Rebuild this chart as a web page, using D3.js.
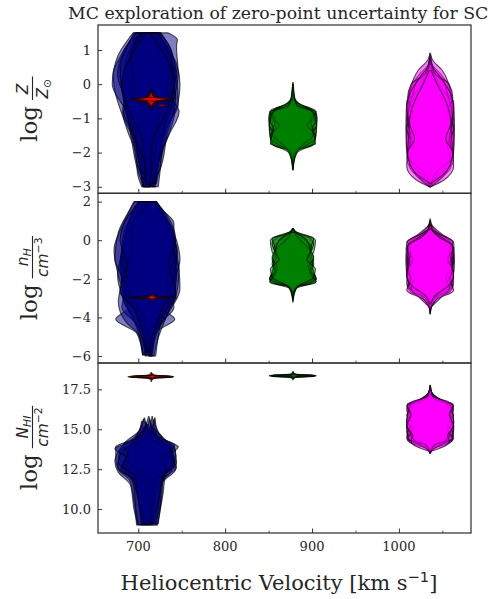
<!DOCTYPE html>
<html><head><meta charset="utf-8">
<script src="https://cdn.jsdelivr.net/npm/d3@7"></script>
<style>body{margin:0;background:#fff}svg{display:block}</style>
</head><body>
<svg id="chart" width="490" height="599"></svg>
<script>
// Monte-Carlo realisations of each absorption component.
// Every violin: [velocity (km/s), [[value, half-width (km/s)], ...]]

// ---- log Z/Zsun ----
const metalBlue = [
  [712, [[-3,5],[-2.5,10],[-2,12],[-1,22],[-0.3,30],[0.5,28],[1.2,18],[1.5,10]]],
  [716, [[-3,4],[-2.2,8],[-1.5,14],[-0.5,30],[0,32],[0.6,28],[1.2,14],[1.5,8]]],
  [707, [[-3,3],[-2.6,8],[-1.8,10],[-1.0,24],[-0.2,34],[0.3,36],[0.8,28],[1.3,16],[1.5,10]]],
  [718, [[-2.9,3],[-2,10],[-1.2,16],[-0.6,28],[0.2,26],[1,20],[1.5,8]]],
  [712, [[-3,7],[-2,14],[-1.4,24],[-0.8,30],[0,22],[0.8,12],[1.5,6]]],
  [710, [[-3,4],[-2.4,12],[-1.6,18],[-0.4,26],[0.3,34],[1.0,26],[1.5,12]]],
  [713, [[-2.95,2],[-2.5,12],[-1.5,20],[-0.4,30],[0.6,22],[1.5,4]]],
  [706, [[-2.6,3],[-1.8,8],[-0.8,20],[0,36],[0.8,30],[1.3,18],[1.5,12]]],
  [720, [[-3,3],[-2.3,6],[-1.4,8],[-0.5,20],[0.3,26],[1.1,24],[1.3,25],[1.5,14]]],
  [709, [[-3,3],[-2.7,5],[-2,10],[-1,14],[-0.2,28],[0.5,30],[1.2,20],[1.5,14]]],
  [715, [[-2.9,4],[-2.3,8],[-1.5,20],[-0.8,32],[-0.2,18],[0.8,24],[1.5,10]]],
  [711, [[-3,2],[-2.8,3],[-2.2,4],[-1.6,6],[-1.0,18],[0,30],[1.5,2]]]
];
const metalRed = [
  [715, [[-0.76,0.3],[-0.6,2],[-0.5,8],[-0.45,24],[-0.4,8],[-0.3,2],[-0.12,0.3]]],
  [715, [[-0.7,0.3],[-0.56,4],[-0.48,14],[-0.45,22],[-0.42,14],[-0.34,4],[-0.18,0.3]]],
  [714, [[-0.64,0.5],[-0.52,6],[-0.46,20],[-0.4,6],[-0.26,0.5]]],
  [715, [[-0.66,0.3],[-0.54,3],[-0.47,10],[-0.44,18],[-0.41,10],[-0.36,3],[-0.22,0.3]]],
  [717, [[-0.5,0.3],[-0.42,20],[-0.38,0.3]]],
  [727, [[-0.66,0.3],[-0.62,6],[-0.58,0.3]]]
];
const metalGreen = [
  [878, [[-2.5,0.5],[-2.2,1.5],[-1.9,6],[-1.7,20],[-1.3,24],[-0.9,22],[-0.75,10],[-0.5,2],[-0.1,0.5]]],
  [878, [[-2.3,0.5],[-2.0,3],[-1.75,16],[-1.5,26],[-1.2,18],[-1.0,26],[-0.8,24],[-0.6,6],[-0.3,1],[0.05,0.3]]],
  [878, [[-2.4,0.5],[-1.95,2],[-1.8,22],[-1.4,27],[-0.9,27],[-0.7,20],[-0.55,3],[-0.2,0.5]]],
  [878, [[-2.2,0.5],[-1.9,4],[-1.6,12],[-1.3,26],[-1.1,14],[-0.8,20],[-0.6,2],[-0.3,0.5]]],
  [878, [[-2.45,0.3],[-2.0,2],[-1.7,24],[-1.0,28],[-0.75,25],[-0.62,8],[-0.4,1],[0,0.3]]],
  [878, [[-2.3,0.4],[-1.85,6],[-1.5,20],[-1.25,10],[-1.0,24],[-0.7,12],[-0.4,1]]],
  [878, [[-2.35,0.3],[-1.9,3],[-1.75,26],[-1.55,20],[-1.2,27],[-0.85,26],[-0.7,18],[-0.5,1],[-0.2,0.3]]],
  [878, [[-2.5,0.3],[-2.05,1],[-1.8,14],[-1.6,26],[-1.0,20],[-0.8,27],[-0.68,6],[-0.3,0.5]]],
  [878, [[-2.2,0.3],[-1.85,8],[-1.45,24],[-1.2,16],[-0.9,25],[-0.66,14],[-0.45,1],[-0.1,0.3]]],
  [878, [[-2.4,0.3],[-2.0,5],[-1.7,26],[-1.3,22],[-1.1,26],[-0.8,22],[-0.6,4],[0.0,0.3]]]
];
const metalMagenta = [
  [1036, [[-3,0.5],[-2.7,8],[-2.3,22],[-1.5,27],[-0.7,26],[-0.2,24],[0.3,12],[0.6,2],[0.9,0.5]]],
  [1036, [[-2.95,0.5],[-2.5,14],[-2.0,24],[-1.2,25],[-0.5,20],[0,10],[0.5,3],[0.75,0.5]]],
  [1036, [[-3,1],[-2.6,18],[-1.8,27],[-1.0,27],[-0.4,24],[-0.1,12],[0.4,4],[0.7,0.5]]],
  [1036, [[-2.9,0.5],[-2.4,10],[-1.9,20],[-1.4,26],[-0.6,25],[0.1,20],[0.4,14],[0.7,3],[0.85,0.5]]],
  [1036, [[-3,0.5],[-2.8,4],[-2.2,16],[-1.6,24],[-0.9,22],[-0.3,14],[0.2,5],[0.6,0.5]]],
  [1036, [[-2.95,0.3],[-2.65,10],[-2.3,26],[-1.3,28],[-0.5,27],[-0.3,18],[0.2,6],[0.5,0.5]]],
  [1036, [[-3,0.3],[-2.75,12],[-2.4,24],[-1.8,20],[-1.3,27],[-0.8,20],[-0.4,26],[0,22],[0.3,6],[0.7,0.3]]],
  [1036, [[-2.98,0.5],[-2.6,6],[-2.1,26],[-1.6,22],[-1.0,26],[-0.3,20],[0.05,16],[0.35,4],[0.6,0.3]]],
  [1036, [[-3,0.3],[-2.8,16],[-2.4,27],[-1.2,24],[-0.7,27],[-0.2,22],[0.2,12],[0.55,2],[0.8,0.3]]],
  [1036, [[-2.9,0.5],[-2.5,20],[-2.0,26],[-1.6,18],[-1.1,24],[-0.5,18],[0,8],[0.4,1]]]
];

// ---- log nH ----
const densBlue = [
  [712, [[-6,4],[-5,8],[-4,18],[-3,30],[-1,32],[0.5,28],[1.5,14],[2,6]]],
  [708, [[-5.9,3],[-4.8,10],[-4.1,34],[-3.5,20],[-2,30],[-0.5,36],[0.8,26],[2,12]]],
  [716, [[-6,2],[-5.2,6],[-4,16],[-2.5,32],[-1.2,30],[0,26],[1.4,14],[2,5]]],
  [710, [[-5.95,5],[-4.5,12],[-3.2,26],[-1.8,34],[-0.8,30],[0.6,22],[1.6,16],[2,10]]],
  [714, [[-6,1],[-5,4],[-3.5,14],[-2.2,26],[-1,34],[0,30],[1,20],[2,4]]],
  [711, [[-5.8,3],[-4.3,14],[-3.5,30],[-2.5,26],[-1.5,32],[-0.2,28],[1.2,20],[2,8]]],
  [713, [[-6,1],[-5.5,3],[-4.6,8],[-3.6,16],[-2.9,30],[-1.8,28],[-0.6,32],[0.8,20],[2,6]]],
  [707, [[-5.9,2],[-5,5],[-4.2,22],[-3.2,30],[-2.0,26],[-1.0,34],[0.4,30],[1.5,18],[2,12]]],
  [717, [[-6,3],[-5,6],[-3.8,12],[-3.0,26],[-1.5,30],[-0.5,24],[0.9,24],[1.6,10],[2,4]]],
  [711, [[-5.7,2],[-4.5,8],[-3.3,20],[-2.7,32],[-1.2,24],[0,32],[1.3,22],[2,9]]]
];
const densRed = [
  [715, [[-3.08,0.3],[-3.0,3],[-2.96,28],[-2.92,3],[-2.82,0.3]]],
  [715, [[-3.02,0.3],[-2.97,30],[-2.93,0.3]]],
  [715, [[-3.05,0.3],[-2.98,5],[-2.95,26],[-2.91,5],[-2.86,0.3]]],
  [716, [[-3.15,0.3],[-3.05,2],[-2.97,6],[-2.88,2],[-2.78,0.3]]]
];
const densGreen = [
  [878, [[-3.2,0.3],[-2.6,1],[-2.3,6],[-2.1,26],[-1.7,22],[-1.0,18],[-0.3,14],[0.2,6],[0.6,0.5]]],
  [878, [[-3.0,0.3],[-2.4,2],[-2.15,24],[-1.9,26],[-1.3,16],[-0.6,24],[0,26],[0.25,16],[0.45,1]]],
  [878, [[-2.9,0.3],[-2.3,3],[-2.05,27],[-1.5,23],[-0.9,22],[-0.4,16],[0.1,8],[0.55,0.5]]],
  [878, [[-3.1,0.3],[-2.5,4],[-2.2,22],[-1.95,18],[-1.2,24],[-0.7,20],[-0.2,24],[0.15,18],[0.35,2]]],
  [878, [[-2.8,0.3],[-2.3,8],[-2.0,25],[-1.6,14],[-1.0,20],[-0.4,12],[0.3,3],[0.6,0.3]]],
  [878, [[-3.0,0.3],[-2.45,1.5],[-2.2,26],[-1.8,24],[-1.1,21],[-0.5,18],[0.0,10],[0.5,1]]],
  [878, [[-3.1,0.3],[-2.5,2],[-2.2,16],[-2.0,27],[-1.6,20],[-1.3,23],[-0.8,18],[-0.4,22],[0.1,12],[0.55,0.5]]],
  [878, [[-2.9,0.3],[-2.35,6],[-2.1,24],[-1.5,20],[-1.0,24],[-0.5,20],[0.1,24],[0.3,10],[0.5,0.5]]],
  [878, [[-3.0,0.3],[-2.4,4],[-2.15,27],[-1.9,22],[-1.4,18],[-0.9,24],[-0.4,18],[0.2,4],[0.6,0.3]]],
  [878, [[-2.7,0.3],[-2.25,10],[-2.0,22],[-1.5,26],[-1.0,16],[-0.6,20],[0,16],[0.4,2]]]
];
const densMagenta = [
  [1036, [[-3.8,0.3],[-3.2,2],[-2.8,12],[-2.5,24],[-1.5,27],[-0.4,26],[0,20],[0.4,8],[0.9,1],[1.1,0.3]]],
  [1036, [[-3.6,0.3],[-3.0,6],[-2.7,22],[-2.2,27],[-1.2,22],[-0.9,26],[-0.2,24],[0.3,6],[0.7,0.5]]],
  [1036, [[-3.5,0.3],[-2.9,10],[-2.5,18],[-1.8,27],[-1.3,24],[-1.0,27],[-0.3,22],[0.2,10],[0.6,1]]],
  [1036, [[-3.7,0.3],[-3.1,3],[-2.6,16],[-2.0,26],[-1.1,28],[-0.1,27],[0.3,14],[0.8,0.5]]],
  [1036, [[-3.4,0.3],[-2.8,8],[-2.4,26],[-1.6,20],[-1.2,27],[-0.5,24],[0.1,14],[0.5,2]]],
  [1036, [[-3.6,0.3],[-3.0,4],[-2.5,14],[-1.7,25],[-0.7,26],[-0.2,22],[0.4,4],[0.9,0.3]]],
  [1036, [[-3.8,0.3],[-3.0,2],[-2.7,20],[-2.3,24],[-1.6,27],[-1.2,20],[-0.8,27],[-0.2,25],[0.2,16],[0.5,3],[1.0,0.3]]],
  [1036, [[-3.5,0.3],[-2.9,14],[-2.5,22],[-1.9,18],[-1.4,26],[-0.6,22],[-0.1,26],[0.3,12],[0.6,0.5]]],
  [1036, [[-3.6,0.3],[-3.05,8],[-2.6,27],[-2.0,22],[-1.5,26],[-1.0,20],[-0.4,27],[0,18],[0.45,4],[0.8,0.3]]],
  [1036, [[-3.3,0.3],[-2.85,6],[-2.4,20],[-1.9,27],[-1.1,24],[-0.3,26],[0.15,10],[0.6,0.3]]]
];

// ---- log N(HI) ----
const columnBlue = [
  [704, [[9.0,6],[10.5,9],[11.8,14],[12.4,26],[13.2,30],[13.9,30],[14.3,14],[14.8,4],[15.5,0.3]]],
  [707, [[9.05,8],[10,12],[11.5,16],[12.3,30],[13,34],[13.6,30],[14.2,22],[14.9,6],[15.7,0.3]]],
  [710, [[9.1,6],[11,12],[12.0,20],[12.6,34],[13.5,30],[14.1,18],[14.6,10],[15.3,1]]],
  [718, [[9.0,4],[10.8,10],[12.2,14],[12.8,24],[13.4,20],[13.9,28],[14.4,10],[15.0,3],[15.6,0.3]]],
  [713, [[9.2,7],[10.2,12],[11.6,14],[12.5,30],[13.3,26],[14.0,22],[14.7,12],[15.2,2],[15.6,0.3]]],
  [716, [[9.0,5],[10.5,8],[12,10],[12.9,28],[13.8,26],[14.4,8],[15.0,3],[15.8,0.3]]],
  [709, [[9.0,5],[10.2,8],[11.4,12],[12.2,18],[12.9,32],[13.7,30],[14.1,12],[14.5,6],[15.4,0.3]]],
  [719, [[9.1,4],[10.8,8],[12.0,10],[12.6,18],[13.3,24],[13.9,22],[14.5,8],[15.1,2],[15.7,0.3]]],
  [706, [[9.0,6],[10,9],[11.8,12],[12.5,26],[13.2,20],[13.8,33],[14.2,14],[14.9,5],[15.6,0.3]]],
  [712, [[9.05,5],[11,13],[12.1,16],[12.7,30],[13.5,24],[14.0,30],[14.6,8],[15.3,3],[15.8,0.3]]]
];
const columnRed = [
  [715, [[18.0,0.3],[18.2,1],[18.24,20],[18.29,26],[18.34,20],[18.38,1],[18.55,0.3]]],
  [715, [[18.1,0.3],[18.22,6],[18.3,25],[18.38,6],[18.5,0.3]]],
  [715, [[18.2,0.5],[18.26,22],[18.32,22],[18.37,0.5]]],
  [714, [[18.22,0.5],[18.27,24],[18.31,26],[18.35,0.5]]],
  [716, [[18.15,0.3],[18.24,3],[18.28,24],[18.33,3],[18.45,0.3]]]
];
const columnGreen = [
  [878, [[18.1,0.3],[18.25,1],[18.29,20],[18.35,27],[18.41,20],[18.45,1],[18.62,0.3]]],
  [878, [[18.15,0.3],[18.27,5],[18.35,26],[18.43,5],[18.55,0.3]]],
  [878, [[18.26,0.5],[18.32,24],[18.38,24],[18.43,0.5]]],
  [877, [[18.28,0.5],[18.33,26],[18.37,26],[18.41,0.5]]],
  [879, [[18.2,0.3],[18.3,3],[18.34,25],[18.39,3],[18.5,0.3]]]
];
const columnMagenta = [
  [1036, [[13.5,0.3],[13.9,4],[14.2,20],[14.6,26],[15.4,22],[16.0,26],[16.5,24],[16.9,8],[17.4,1],[17.75,0.3]]],
  [1036, [[13.6,0.3],[14.0,10],[14.3,26],[14.8,18],[15.2,26],[15.8,20],[16.3,26],[16.7,12],[17.2,1],[17.5,0.3]]],
  [1036, [[13.7,0.3],[14.1,16],[14.4,27],[15.0,26],[15.6,22],[16.2,27],[16.6,26],[16.85,4],[17.3,0.3]]],
  [1036, [[13.6,0.3],[14.0,6],[14.5,22],[15.1,27],[15.7,24],[16.4,20],[16.8,14],[17.2,3],[17.6,0.3]]],
  [1036, [[13.8,0.3],[14.2,24],[14.7,26],[15.5,20],[16.1,24],[16.55,22],[16.9,10],[17.35,0.5]]],
  [1036, [[13.5,0.3],[14.15,8],[14.4,20],[14.9,27],[15.6,27],[16.3,22],[16.7,18],[17.1,2],[17.7,0.3]]],
  [1036, [[13.6,0.3],[14.05,12],[14.35,24],[14.8,26],[15.3,20],[15.9,27],[16.4,20],[16.75,16],[17.1,2],[17.6,0.3]]],
  [1036, [[13.7,0.3],[14.1,8],[14.4,26],[15.0,20],[15.5,27],[16.0,22],[16.5,27],[16.8,8],[17.2,0.5]]],
  [1036, [[13.5,0.3],[14.0,4],[14.3,18],[14.9,24],[15.4,27],[16.2,25],[16.6,22],[17.0,6],[17.5,0.3]]],
  [1036, [[13.6,0.3],[14.2,22],[14.6,20],[15.2,27],[15.9,22],[16.4,26],[16.75,20],[17.05,3],[17.7,0.3]]]
];

// axis ranges and ticks
const velocityRange = [653.6, 1083];
const velocityTicks = [700, 800, 900, 1000];
const velocityMinorTicks = [750, 850, 950, 1050];
const metalRange = [-3.19, 1.73];
const metalTicks = [-3, -2, -1, 0, 1];
const densRange = [-6.36, 2.43];
const densTicks = [-6, -4, -2, 0, 2];
const columnRange = [8.5, 19.15];
const columnTicks = [10, 12.5, 15, 17.5];

const componentColors = ["navy", "red", "green", "magenta"];

const svg = d3.select("#chart");
const left = 98, right = 471;
const ink = "#262626", spine = "#333";

const x = d3.scaleLinear().domain(velocityRange).range([left, right]);

const panels = [
  {top: 25, bottom: 193.3, range: metalRange, ticks: metalTicks, fmt: d3.format("d"),
   groups: [metalBlue, metalRed, metalGreen, metalMagenta]},
  {top: 193.3, bottom: 363, range: densRange, ticks: densTicks, fmt: d3.format("d"),
   groups: [densBlue, densRed, densGreen, densMagenta]},
  {top: 363, bottom: 533, range: columnRange, ticks: columnTicks, fmt: d3.format(".1f"),
   groups: [columnBlue, columnRed, columnGreen, columnMagenta]}
];

svg.append("text")
  .attr("x", 68).attr("y", 18.5)
  .attr("font-family", "DejaVu Serif").attr("font-size", 17.3).attr("fill", ink)
  .text("MC exploration of zero-point uncertainty for SC");

panels.forEach((p, i) => {
  const y = d3.scaleLinear().domain(p.range).range([p.bottom, p.top]);
  const clipId = "clip" + i;
  svg.append("clipPath").attr("id", clipId).append("rect")
    .attr("x", left).attr("y", p.top).attr("width", right - left).attr("height", p.bottom - p.top);
  const g = svg.append("g").attr("clip-path", `url(#${clipId})`);

  p.groups.forEach((violins, ci) => {
    violins.forEach(([pos, prof]) => {
      const pts = prof.slice().sort((a, b) => b[0] - a[0]);
      const area = d3.area()
        .curve(d3.curveMonotoneY)
        .y(d => y(d[0]))
        .x0(d => x(pos - d[1]))
        .x1(d => x(pos + d[1]));
      g.append("path").attr("d", area(pts))
        .attr("fill", componentColors[ci]).attr("fill-opacity", 0.5)
        .attr("stroke", "#000").attr("stroke-opacity", 0.65).attr("stroke-width", 1.1);
    });
  });

  // frame
  svg.append("rect").attr("x", left).attr("y", p.top)
    .attr("width", right - left).attr("height", p.bottom - p.top)
    .attr("fill", "none").attr("stroke", spine).attr("stroke-width", 1.25);

  // inward y ticks
  const ya = d3.axisRight(y).tickValues(p.ticks).tickSize(4).tickFormat("");
  const yg = svg.append("g").attr("transform", `translate(${left},0)`).call(ya);
  yg.select(".domain").remove();
  yg.selectAll("line").attr("stroke", spine).attr("stroke-width", 1);
  p.ticks.forEach(t => {
    svg.append("text").attr("x", left - 7).attr("y", y(t)).attr("dy", "0.36em")
      .attr("text-anchor", "end").attr("font-family", "DejaVu Serif").attr("font-size", 13)
      .attr("fill", ink).text(p.fmt(t));
  });

  // inward x ticks
  const xa = d3.axisTop(x).tickValues(velocityTicks).tickSize(4.5).tickFormat("");
  const xg = svg.append("g").attr("transform", `translate(0,${p.bottom})`).call(xa);
  xg.select(".domain").remove();
  xg.selectAll("line").attr("stroke", spine).attr("stroke-width", 1);
  const xm = d3.axisTop(x).tickValues(velocityMinorTicks).tickSize(2.5).tickFormat("");
  const xmg = svg.append("g").attr("transform", `translate(0,${p.bottom})`).call(xm);
  xmg.select(".domain").remove();
  xmg.selectAll("line").attr("stroke", spine).attr("stroke-width", 0.8);

  if (i === panels.length - 1) {
    velocityTicks.forEach(t => {
      svg.append("text").attr("x", x(t)).attr("y", p.bottom + 17.5)
        .attr("text-anchor", "middle").attr("font-family", "DejaVu Serif").attr("font-size", 13)
        .attr("fill", ink).text(t);
    });
  }
});

// x-axis label
const xl = svg.append("text").attr("x", 279).attr("y", 590)
  .attr("text-anchor", "middle").attr("font-family", "DejaVu Serif").attr("font-size", 21).attr("fill", ink);
xl.append("tspan").text("Heliocentric Velocity [km s");
xl.append("tspan").attr("font-family", "DejaVu Sans").attr("font-size", 14.7).attr("dy", -8).text("\u22121");
xl.append("tspan").attr("dy", 8).text("]");

// y-axis labels: "log" followed by a stacked fraction
function yLabel(cy, num, den) {
  const g = svg.append("g").attr("transform", `translate(37,${cy}) rotate(-90)`);
  const logT = g.append("text").attr("font-family", "DejaVu Serif").attr("font-size", 23)
    .attr("fill", ink).text("log");
  const wLog = logT.node().getComputedTextLength();
  const mk = parts => {
    const t = g.append("text").attr("font-family", "DejaVu Sans").attr("fill", ink);
    parts.forEach(([s, kind]) => {
      const ts = t.append("tspan").text(s);
      if (kind === "i") ts.attr("font-style", "italic").attr("font-size", 15.4).attr("dy", 0);
      if (kind === "sub") ts.attr("font-style", "italic").attr("font-size", 10.8).attr("dy", 3);
      if (kind === "subr") ts.attr("font-size", 10.8).attr("dy", 3);
      if (kind === "sup") ts.attr("font-size", 10.8).attr("dy", -6);
    });
    return t;
  };
  const a = 4.5;
  const nT = mk(num), dT = mk(den);
  const wn = nT.node().getBBox().width, wd = dT.node().getBBox().width;
  const L = Math.max(wn, wd) + 3;
  const x1 = wLog + 6;
  const total = x1 + L;
  const off = -total / 2;
  logT.attr("x", off);
  nT.attr("x", off + x1 + (L - wn) / 2).attr("y", -a - 5);
  dT.attr("x", off + x1 + (L - wd) / 2).attr("y", -a + 15);
  g.append("line").attr("x1", off + x1).attr("x2", off + x1 + L)
    .attr("y1", -a).attr("y2", -a).attr("stroke", ink).attr("stroke-width", 1.1);
}
yLabel((25 + 193.3) / 2, [["Z", "i"]], [["Z", "i"], ["\u2299", "subr"]]);
yLabel((193.3 + 363) / 2, [["n", "i"], ["H", "sub"]], [["cm", "i"], ["\u22123", "sup"]]);
yLabel((363 + 533) / 2, [["N", "i"], ["HI", "sub"]], [["cm", "i"], ["\u22122", "sup"]]);
</script>
</body></html>
